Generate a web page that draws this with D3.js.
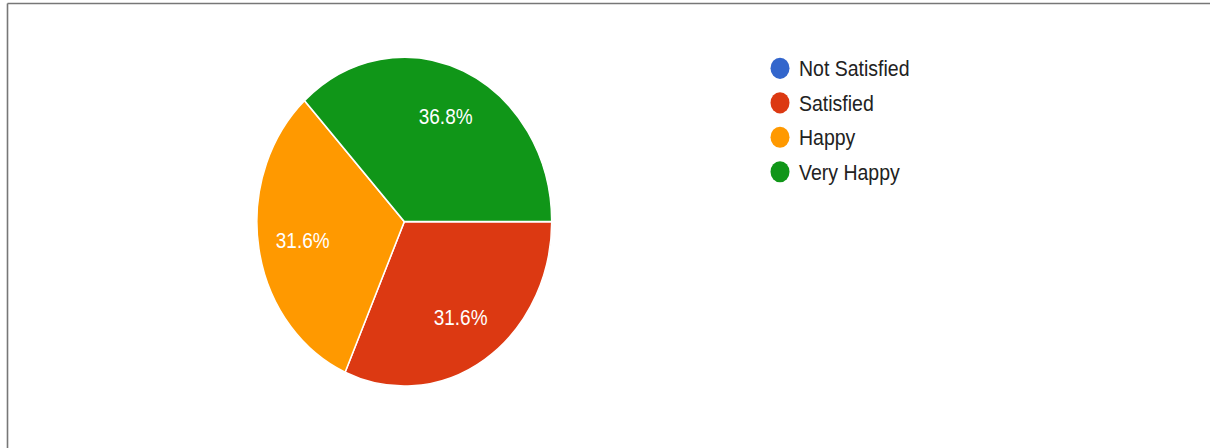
<!DOCTYPE html>
<html>
<head>
<meta charset="utf-8">
<script src="https://cdn.jsdelivr.net/npm/d3@7"></script>
<style>
  html, body { margin: 0; padding: 0; background: #fff; }
  svg { display: block; }
</style>
</head>
<body>
<svg id="chart" width="1210" height="448"></svg>
<script>
const categories = ["Not Satisfied", "Satisfied", "Happy", "Very Happy"];
const values = [0, 6, 6, 7];
const colors = ["#3366cc", "#dc3912", "#ff9900", "#109618"];

const W = 1210, H = 448;
const svg = d3.select("#chart");

// frame lines
svg.append("line").attr("x1", 7.5).attr("x2", W).attr("y1", 3.5).attr("y2", 3.5)
  .attr("stroke", "#777").attr("stroke-width", 1.6);
svg.append("line").attr("x1", 7.5).attr("x2", 7.5).attr("y1", 3.5).attr("y2", H)
  .attr("stroke", "#777").attr("stroke-width", 1.6);

const sy = 1.116;
const g = svg.append("g").attr("transform", `scale(1,${sy})`);

const cx = 404.3, cy = 198.6, R = 147.4;
const total = d3.sum(values);
const data = categories.map((c, i) => ({ cat: c, value: values[i], color: colors[i] }));

const pie = d3.pie().value(d => d.value).sort(null)
  .startAngle(Math.PI / 2).endAngle(Math.PI / 2 + 2 * Math.PI);
const arcs = pie(data);
const arc = d3.arc().innerRadius(0).outerRadius(R);
const labelArc = d3.arc().innerRadius(103).outerRadius(103);

const pg = g.append("g").attr("transform", `translate(${cx},${cy})`);
pg.selectAll("path").data(arcs.filter(a => a.value > 0)).join("path")
  .attr("d", arc)
  .attr("fill", d => d.data.color)
  .attr("stroke", "#fff")
  .attr("stroke-width", 1.5);

pg.selectAll("text").data(arcs.filter(a => a.value > 0)).join("text")
  .attr("transform", d => { const [x, y] = labelArc.centroid(d); return `translate(${x},${y})`; })
  .attr("text-anchor", "middle")
  .attr("dominant-baseline", "central")
  .attr("fill", "#fff")
  .attr("font-family", "Liberation Sans, Arial, sans-serif")
  .attr("font-size", 19)
  .text(d => (d.value / total * 100).toFixed(1) + "%");

// legend
const lg = g.append("g").attr("transform", "translate(780,61.2)");
const ly = d3.scaleLinear().domain([0, 1]).range([0, 30.9]);
const items = lg.selectAll("g").data(data).join("g")
  .attr("transform", (d, i) => `translate(0,${ly(i)})`);
items.append("circle").attr("r", 9.5).attr("fill", d => d.color);
items.append("text")
  .attr("x", 19)
  .attr("dominant-baseline", "central")
  .attr("fill", "#222")
  .attr("font-family", "Liberation Sans, Arial, sans-serif")
  .attr("font-size", 19.5)
  .text(d => d.cat);
</script>
</body>
</html>
